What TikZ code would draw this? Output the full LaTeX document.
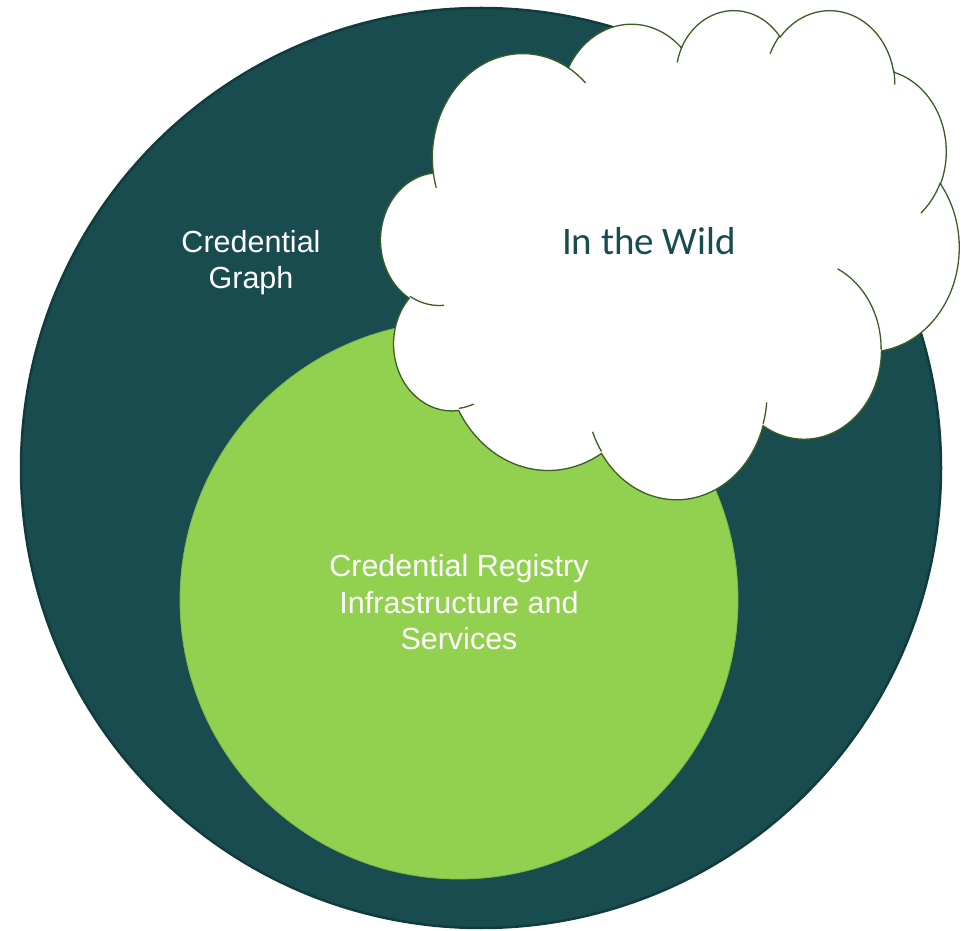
\documentclass[tikz,border=0pt]{standalone}
\usepackage{fontspec}
\setmainfont{Liberation Sans}
\newfontfamily\calibrifont{Carlito}
\definecolor{deepteal}{HTML}{184C4F}
\definecolor{tealrim}{HTML}{113B3D}
\definecolor{leaf}{HTML}{92D050}
\definecolor{cloudrim}{HTML}{3B5E22}
% one lobe of the cloud: x radius, y radius, start and sweep (angles seen on the ellipse)
\newcommand\puff[4]{arc[x radius=#1, y radius=#2,
  start angle={atan2(#1*sin(#3),#2*cos(#3))},
  delta angle={mod(atan2(#1*sin(#3+#4),#2*cos(#3+#4))-atan2(#1*sin(#3),#2*cos(#3))+720,360)}]}
\begin{document}
\begin{tikzpicture}[x=1pt,y=1pt,
    lbl/.style={text=white,align=center,inner sep=0pt,anchor=north,
      font=\fontsize{30.5}{36.5}\selectfont}]
  \useasboundingbox (0,0) rectangle (964,930);
  \path node[circle,fill=deepteal,draw=tealrim,line width=2.5pt,minimum size=920pt] (graph) at (481,462) {}
        node[circle,fill=leaf,draw=leaf!88!black,line width=.8pt,minimum size=558pt] (registry) at (459,330) {};
  % the cloud, in 1/100 of its 43200 units, y pointing down
  \begin{scope}[shift={(381,921)},x=1.33796pt,y=-1.13194pt,draw=cloudrim,line width=1.3pt]
    \filldraw[fill=white] (39,143.7) \puff{67.53}{91.90}{-190.487}{123.781}
      \puff{53.33}{72.67}{-144.102}{89.945} \puff{43.65}{59.45}{-145.808}{99.723}
      \puff{48.57}{65.95}{-130.986}{117.242} \puff{53.33}{72.73}{-78.709}{109.027}
      \puff{67.75}{92.20}{-46.267}{130.269} \puff{57.85}{78.67}{0.625}{114.033}
      \puff{67.52}{92.15}{22.452}{115.173} \puff{77.20}{105.43}{66.243}{75.711}
      \puff{43.60}{59.18}{-274.942}{146.736} \puff{43.45}{59.45}{-246.829}{152.519} -- cycle;
    \draw (46.93,261.77) \puff{43.45}{59.45}{86.742}{26.430}
      (69.28,348.99) \puff{43.60}{59.18}{73.610}{11.447}
      (164.78,390.90) \puff{67.52}{92.15}{137.624}{14.081}
      (288.27,347.51) \puff{67.52}{92.15}{6.453}{15.998}
      (341.29,229.54) \puff{57.85}{78.67}{-70.292}{70.917}
      (417.98,153.54) \puff{53.33}{72.73}{30.318}{27.752}
      (383.24,54.26) \puff{48.57}{65.95}{-13.744}{14.859}
      (290.78,39.52) \puff{48.57}{65.95}{-149.181}{18.195}
      (221.41,47.20) \puff{43.65}{59.45}{-163.494}{17.686}
      (140.00,51.92) \puff{67.53}{91.90}{-66.707}{12.319}
      (41.27,157.89) \puff{67.53}{91.90}{157.654}{11.858};
  \end{scope}
  \node[lbl] (graphtext) at (251,700) {Credential\\Graph};
  \node[lbl] (registrytext) at (459,375.5) {Credential Registry\\Infrastructure and\\Services};
  \node[anchor=base,inner sep=0pt,text=deepteal,font=\calibrifont\fontsize{39}{46}\selectfont] (wild) at (649,675) {In the Wild};
\end{tikzpicture}
\end{document}
